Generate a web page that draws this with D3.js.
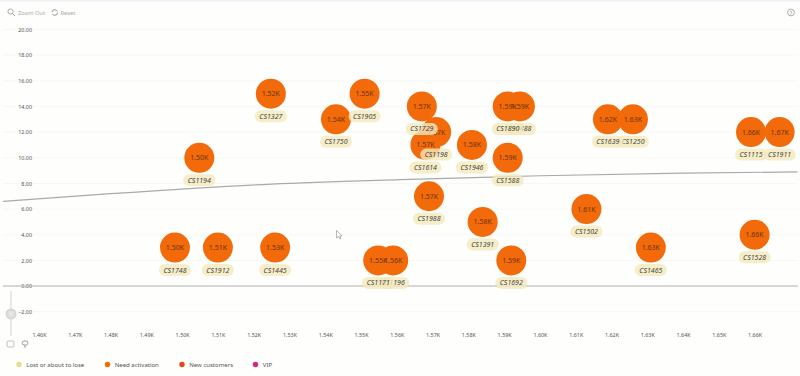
<!DOCTYPE html>
<html>

<head>
  <meta charset="utf8">
  <script src="https://d3js.org/d3.v7.min.js"></script>
  <style>
    html, body {
      margin: 0;
      padding: 0;
      background: #fefefc;
    }

    svg {
      display: block;
      font-family: "Noto Sans", sans-serif;
    }

    .axis text {
      fill: #555;
      font-size: 5.4px;
      font-family: "Noto Sans", sans-serif;
    }

    .value {
      fill: #6b3410;
      font-size: 7px;
      text-anchor: middle;
    }

    .name {
      fill: #444;
      font-size: 7px;
      font-style: italic;
      text-anchor: middle;
    }

    .legend text {
      fill: #555;
      font-size: 6px;
    }

    .tool {
      fill: #aaa;
      font-size: 5.7px;
    }
  </style>
</head>

<body>
  <svg id="chart" width="800" height="376"></svg>

  <script>
    // drawn in this order, later customers sit on top of earlier ones
    var customers = ['CS1194', 'CS1748', 'CS1912', 'CS1445', 'CS1327', 'CS1750', 'CS1905', 'CS1729', 'CS1198', 'CS1614',
      'CS1946', 'CS1488', 'CS1890', 'CS1588', 'CS1988', 'CS1391', 'CS1692', 'CS1196', 'CS1171', 'CS1502',
      'CS1465', 'CS1528', 'CS1250', 'CS1639', 'CS1115', 'CS1911'];
    var monetary = [1504.8, 1498, 1510, 1526, 1524.8, 1543, 1551, 1567, 1571, 1568,
      1581, 1594.4, 1591, 1591, 1569, 1584, 1592, 1559, 1554.8, 1613,
      1631, 1660, 1626, 1619, 1659, 1667];
    var frequency = [10, 3, 3, 3, 15, 13, 15, 14, 12, 11,
      11, 14, 14, 10, 7, 5, 2, 2, 2, 6,
      3, 4, 13, 13, 12, 12];

    var trendX = [1450, 1480, 1525, 1561, 1600, 1640, 1672];
    var trendY = [6.6, 7.2, 7.95, 8.3, 8.6, 8.8, 8.9];

    var xTicks = [1460, 1470, 1480, 1490, 1500, 1510, 1520, 1530, 1540, 1550, 1560, 1570, 1580,
      1590, 1600, 1610, 1620, 1630, 1640, 1650, 1660];
    var yTicks = [-2, 0, 2, 4, 6, 8, 10, 12, 14, 16, 18, 20];

    var segments = ['Lost or about to lose', 'Need activation', 'New customers', 'VIP'];
    var segmentColors = ['#e9da8e', '#f26a0a', '#e8431a', '#d8247e'];
    var segmentX = [19, 107.5, 182, 255.5];

    var chart = d3.select('#chart');

    var x = d3.scaleLinear().domain([1460, 1660]).range([39, 754.6]);
    var y = d3.scaleLinear().domain([-2, 20]).range([311.7, 29.5]);
    var fmtK = (d) => d3.format('.2f')(d / 1000) + 'K';

    // top strip
    chart.append('rect').attr('width', 800).attr('height', 1.5).attr('fill', '#f1f1f8');

    // very faint grid
    chart.append('g').selectAll('line')
      .data(yTicks)
      .enter()
      .append('line')
      .attr('x1', 3).attr('x2', 798)
      .attr('y1', (d) => y(d)).attr('y2', (d) => y(d))
      .attr('stroke', '#f8f7f4');

    // axes
    chart.append('g')
      .attr('class', 'axis y-axis')
      .attr('transform', 'translate(33, 0)')
      .call(d3.axisLeft(y).tickValues(yTicks).tickFormat(d3.format('.2f')).tickSize(0).tickPadding(1))
      .call((g) => g.select('.domain').remove());

    chart.append('g')
      .attr('class', 'axis x-axis')
      .attr('transform', 'translate(0, 332)')
      .call(d3.axisBottom(x).tickValues(xTicks).tickFormat(fmtK).tickSize(0).tickPadding(1))
      .call((g) => g.select('.domain').remove());

    // zero line
    chart.append('line')
      .attr('x1', 3).attr('x2', 798)
      .attr('y1', y(0)).attr('y2', y(0))
      .attr('stroke', '#b5b5b5');

    // trend line
    var trend = d3.line()
      .x((d) => x(d))
      .y((d, i) => y(trendY[i]))
      .curve(d3.curveMonotoneX);

    chart.append('path')
      .attr('d', trend(trendX))
      .attr('fill', 'none')
      .attr('stroke', '#aaa')
      .attr('stroke-width', 1.2);

    // bubbles, then their values above all of them
    chart.append('g').selectAll('circle')
      .data(customers)
      .enter()
      .append('circle')
      .attr('cx', (d, i) => x(monetary[i]))
      .attr('cy', (d, i) => y(frequency[i]))
      .attr('r', 15)
      .attr('fill', '#f26a0a');

    chart.append('g').selectAll('text')
      .data(customers)
      .enter()
      .append('text')
      .attr('class', 'value')
      .attr('x', (d, i) => x(monetary[i]))
      .attr('y', (d, i) => y(frequency[i]))
      .attr('dy', '0.35em')
      .text((d, i) => fmtK(monetary[i]));

    // name pills go over everything
    var pills = chart.append('g').selectAll('g')
      .data(customers)
      .enter()
      .append('g')
      .attr('transform', (d, i) => 'translate(' + x(monetary[i]) + ', ' + (y(frequency[i]) + 22.5) + ')');

    pills.append('rect')
      .attr('x', -16).attr('y', -6)
      .attr('width', 32).attr('height', 12)
      .attr('rx', 6)
      .attr('fill', '#f4e9bb')
      .attr('fill-opacity', 0.8);

    pills.append('text')
      .attr('class', 'name')
      .attr('dy', '0.35em')
      .text((d) => d);

    // legend
    var legend = chart.append('g').attr('class', 'legend').selectAll('g')
      .data(segments)
      .enter()
      .append('g')
      .attr('transform', (d, i) => 'translate(' + segmentX[i] + ', 364.5)');

    legend.append('circle')
      .attr('r', 2.7)
      .attr('fill', (d, i) => segmentColors[i]);

    legend.append('text')
      .attr('x', 7.3)
      .attr('dy', '0.35em')
      .text((d) => d);

    // toolbar
    var tools = chart.append('g');
    tools.append('circle').attr('cx', 10.5).attr('cy', 11.5).attr('r', 2.6)
      .attr('fill', 'none').attr('stroke', '#999').attr('stroke-width', 0.8);
    tools.append('line').attr('x1', 12.5).attr('y1', 13.5).attr('x2', 15).attr('y2', 16)
      .attr('stroke', '#999').attr('stroke-width', 0.9);
    tools.append('text').attr('class', 'tool').attr('x', 18).attr('y', 14.5).text('Zoom Out');
    tools.append('circle').attr('cx', 54.7).attr('cy', 12.5).attr('r', 2.8)
      .attr('fill', 'none').attr('stroke', '#888').attr('stroke-width', 0.9).attr('stroke-dasharray', '7 2');
    tools.append('text').attr('class', 'tool').attr('x', 60.5).attr('y', 14.5).text('Reset');
    tools.append('circle').attr('cx', 791).attr('cy', 12.5).attr('r', 3.4)
      .attr('fill', 'none').attr('stroke', '#999').attr('stroke-width', 0.8);
    tools.append('text').attr('x', 791).attr('y', 14.6).attr('text-anchor', 'middle')
      .attr('fill', '#888').attr('font-size', 5.5).text('?');

    // zoom slider on the left
    var knob = chart.append('defs').append('radialGradient').attr('id', 'knob');
    knob.append('stop').attr('offset', '0%').attr('stop-color', '#eee');
    knob.append('stop').attr('offset', '100%').attr('stop-color', '#d2d2d0');
    chart.append('line').attr('x1', 11).attr('x2', 11).attr('y1', 291).attr('y2', 336)
      .attr('stroke', '#e2e2e2').attr('stroke-width', 1.6);
    chart.append('circle').attr('cx', 11).attr('cy', 314).attr('r', 5.5).attr('fill', 'url(#knob)');
    chart.append('rect').attr('x', 7).attr('y', 341).attr('width', 7).attr('height', 6).attr('rx', 1)
      .attr('fill', 'none').attr('stroke', '#aaa').attr('stroke-width', 0.7);
    chart.append('ellipse').attr('cx', 25).attr('cy', 343).attr('rx', 3).attr('ry', 2.2)
      .attr('fill', 'none').attr('stroke', '#888').attr('stroke-width', 0.8);
    chart.append('line').attr('x1', 25).attr('x2', 25).attr('y1', 345).attr('y2', 348)
      .attr('stroke', '#888').attr('stroke-width', 0.8);

    // mouse pointer in the screenshot
    chart.append('path')
      .attr('d', 'M336.5 230.5 L336.5 238 L338.5 236.5 L340 239 L341 238.5 L339.8 236 L342 235.8 Z')
      .attr('fill', '#fff')
      .attr('stroke', '#888')
      .attr('stroke-width', 0.6);
  </script>
</body>

</html>
